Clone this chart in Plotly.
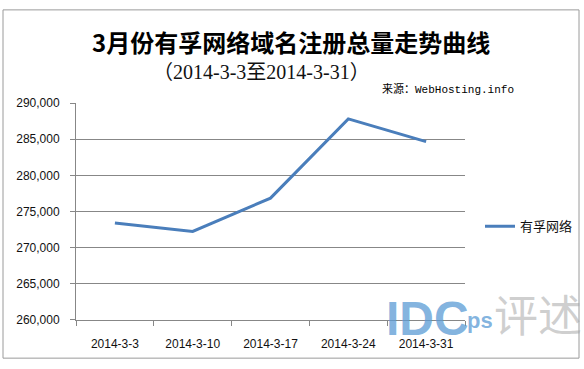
import plotly.graph_objects as go

categories = ["2014-3-3", "2014-3-10", "2014-3-17", "2014-3-24", "2014-3-31"]
values = [273400, 272230, 276840, 287830, 284680]
series_name = "有孚网络"
y_ticks = [260000, 265000, 270000, 275000, 280000, 285000, 290000]

W, H = 584, 369

def px(x):
    return x / W

def py(y):
    return 1 - y / H

fig = go.Figure()
fig.add_trace(go.Scatter(
    x=categories, y=values, mode="lines", name=series_name,
    line=dict(color="#4A7EBB", width=3),
))

grid = "#878787"
fig.update_layout(
    width=W, height=H,
    margin=dict(l=0, r=0, t=0, b=0),
    paper_bgcolor="white", plot_bgcolor="white",
    showlegend=True,
    legend=dict(x=px(480), y=py(228), xanchor="left", yanchor="middle",
                font=dict(family="Noto Sans CJK SC", size=13, color="#111"),
                bgcolor="rgba(0,0,0,0)", itemwidth=30),
    xaxis=dict(
        domain=[px(76), px(465)], type="category", range=[-0.5, 4.5],
        showline=True, linecolor=grid, linewidth=1,
        ticks="outside", ticklen=5, tickcolor=grid, tickson="boundaries",
        ticklabelstandoff=13,
        showgrid=False, tickfont=dict(family="Liberation Sans, Arial", size=12, color="#111"),
        fixedrange=True,
    ),
    yaxis=dict(
        domain=[py(325), py(100)], range=[260000, 290000],
        tickvals=y_ticks, tickformat=",",
        showline=True, linecolor=grid, linewidth=1,
        ticks="outside", ticklen=5, tickcolor=grid,
        ticklabelstandoff=8,
        showgrid=True, gridcolor=grid, gridwidth=1, zeroline=False,
        tickfont=dict(family="Liberation Sans, Arial", size=12, color="#111"),
        fixedrange=True,
    ),
    shapes=[dict(type="rect", xref="paper", yref="paper",
                 x0=px(3), x1=px(579), y0=py(365), y1=py(3),
                 line=dict(color="#9a9a9a", width=1))],
)

ann = [
    dict(text="<b>3月份有孚网络域名注册总量走势曲线</b>", x=px(291), y=py(36),
         font=dict(family="Noto Sans CJK SC", size=24, color="#000")),
    dict(text="（2014-3-3至2014-3-31）", x=px(261), y=py(68),
         font=dict(family="Liberation Serif, Noto Sans CJK SC", size=20, color="#111")),
    dict(text="来源：WebHosting.info", x=px(448), y=py(85),
         font=dict(family="Liberation Mono, Noto Sans CJK SC", size=11, color="#000")),
    # watermark
    dict(text="<b>IDC</b>", x=px(427), y=py(324),
         font=dict(family="Liberation Sans", size=48, color="rgba(91,155,213,0.75)")),
    dict(text="<b>ps</b>", x=px(480), y=py(326),
         font=dict(family="Liberation Sans", size=22, color="rgba(91,155,213,0.75)")),
    dict(text="评述", x=px(538), y=py(318),
         font=dict(family="Noto Sans CJK SC", size=44, color="rgba(160,160,160,0.5)")),
]
for a in ann:
    a.update(xref="paper", yref="paper", showarrow=False, xanchor="center", yanchor="middle")
fig.update_layout(annotations=ann)

fig.write_html("out.html")
